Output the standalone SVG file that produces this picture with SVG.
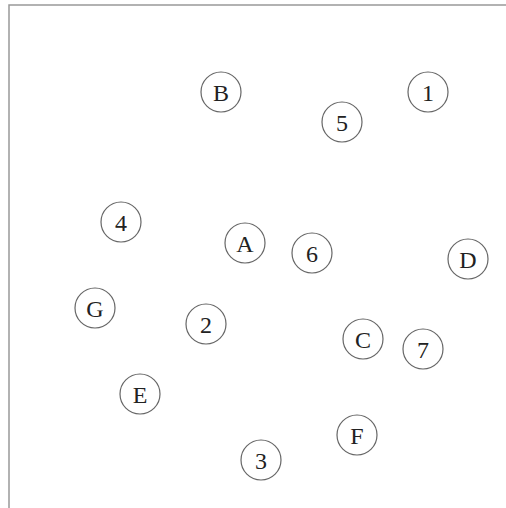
<svg xmlns="http://www.w3.org/2000/svg" width="506" height="508" viewBox="0 0 506 508">
<style>
.n circle{fill:#fff;stroke:#666;stroke-width:1.2}
.n text{font-family:"Liberation Serif","DejaVu Serif",serif;font-size:24px;fill:#222;text-anchor:middle;dominant-baseline:central}
.frame{stroke:#999;stroke-width:1.5;fill:none}
</style>
<rect width="506" height="508" fill="#fff"/>
<g id="frame"><path class="frame" d="M506 5 H9 V508"/></g>
<g id="connectors"></g>
<g id="B" class="n"><circle cx="221" cy="92" r="20"/><text x="221" y="93">B</text></g>
<g id="n1" class="n"><circle cx="428" cy="92" r="20"/><text x="428" y="93">1</text></g>
<g id="n5" class="n"><circle cx="342" cy="122" r="20"/><text x="342" y="123">5</text></g>
<g id="n4" class="n"><circle cx="121" cy="222" r="20"/><text x="121" y="223">4</text></g>
<g id="A" class="n"><circle cx="245" cy="243" r="20"/><text x="245" y="244">A</text></g>
<g id="n6" class="n"><circle cx="312" cy="253" r="20"/><text x="312" y="254">6</text></g>
<g id="D" class="n"><circle cx="468" cy="259" r="20"/><text x="468" y="260">D</text></g>
<g id="G" class="n"><circle cx="95" cy="308" r="20"/><text x="95" y="309">G</text></g>
<g id="n2" class="n"><circle cx="206" cy="324" r="20"/><text x="206" y="325">2</text></g>
<g id="C" class="n"><circle cx="363" cy="339" r="20"/><text x="363" y="340">C</text></g>
<g id="n7" class="n"><circle cx="423" cy="349" r="20"/><text x="423" y="350">7</text></g>
<g id="E" class="n"><circle cx="140" cy="394" r="20"/><text x="140" y="395">E</text></g>
<g id="F" class="n"><circle cx="357" cy="435" r="20"/><text x="357" y="436">F</text></g>
<g id="n3" class="n"><circle cx="261" cy="460" r="20"/><text x="261" y="461">3</text></g>
</svg>
